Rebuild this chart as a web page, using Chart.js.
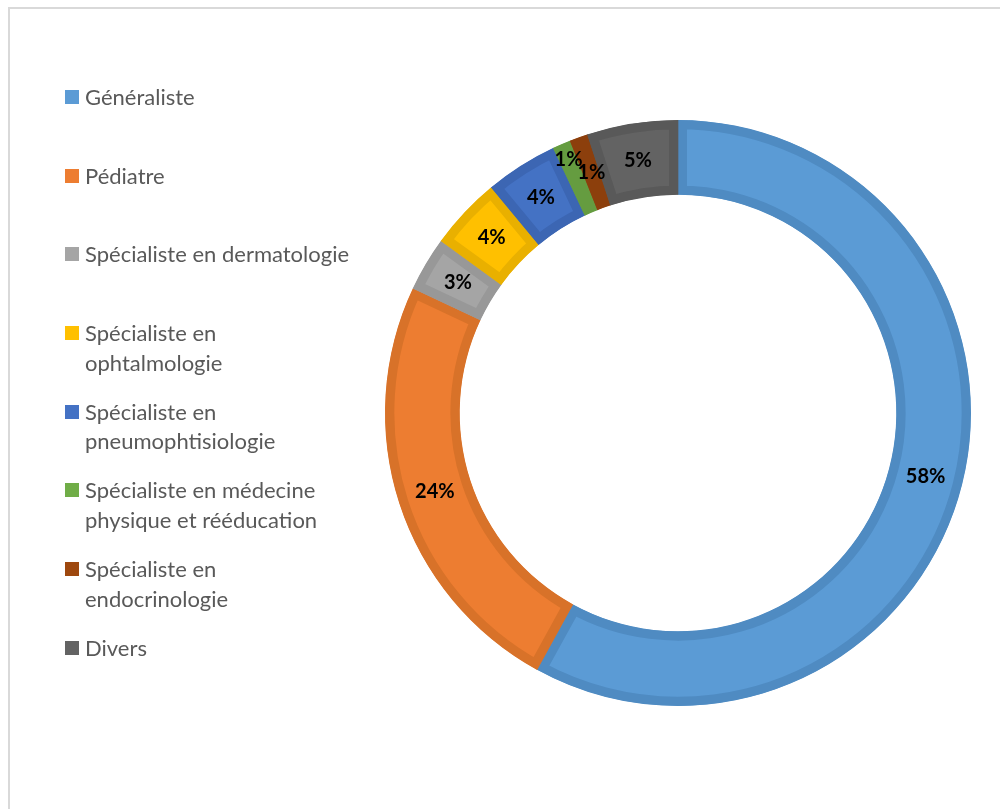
<!DOCTYPE html>
<html lang="fr">
<head>
<meta charset="utf-8">
<title>Répartition des prescripteurs</title>
<script src="https://cdn.jsdelivr.net/npm/chart.js@4.4.1/dist/chart.umd.min.js"></script>
<style>
    html, body {
        margin: 0;
        padding: 0;
        background: #fff;
        overflow: hidden;
    }
    #cadre {
        position: absolute;
        left: 8px;
        top: 7px;
        width: 1010px;
        height: 830px;
        border: 2px solid #d9d9d9;
        box-sizing: border-box;
    }
    #zone {
        position: absolute;
        left: 0;
        top: 0;
        width: 1000px;
        height: 809px;
    }
    #legende {
        position: absolute;
        left: 65px;
        top: 82px;
        margin: 0;
        padding: 0;
        list-style: none;
        font-family: Lato, "Open Sans", sans-serif;
        font-size: 22px;
        line-height: 29.5px;
        color: #595959;
    }
    #legende li {
        position: relative;
        padding-left: 20px;
        height: 78.7px;
    }
    #legende li span.carre {
        position: absolute;
        left: 0;
        top: 8px;
        width: 14px;
        height: 14px;
    }
</style>
</head>
<body>
<div id="cadre"></div>
<div id="zone"><canvas id="graphiqueMedecins" width="1000" height="809"></canvas></div>
<ul id="legende"></ul>
<script>
// Catégories de médecins (les sous-tableaux = retour à la ligne dans la légende)
const categories = [
    'Généraliste',
    'Pédiatre',
    'Spécialiste en dermatologie',
    ['Spécialiste en', 'ophtalmologie'],
    ['Spécialiste en', 'pneumophtisiologie'],
    ['Spécialiste en médecine', 'physique et rééducation'],
    ['Spécialiste en', 'endocrinologie'],
    'Divers'
];

// Pourcentages
const pourcentages = [58, 24, 3, 4, 4, 1, 1, 5];

const couleurs = ['#5b9bd5', '#ed7d31', '#a5a5a5', '#ffc000', '#4472c4', '#70ad47', '#9e480e', '#636363'];
const bordures = ['#4f8bc2', '#d87229', '#989898', '#e9b000', '#3c66b3', '#659c40', '#8c3f0c', '#595959'];

// légende à gauche
const legende = document.getElementById('legende');
categories.forEach((cat, i) => {
    const li = document.createElement('li');
    const carre = document.createElement('span');
    carre.className = 'carre';
    carre.style.background = couleurs[i];
    li.appendChild(carre);
    const lignes = Array.isArray(cat) ? cat : [cat];
    li.appendChild(document.createTextNode(lignes[0]));
    for (let k = 1; k < lignes.length; k++) {
        li.appendChild(document.createElement('br'));
        li.appendChild(document.createTextNode(lignes[k]));
    }
    legende.appendChild(li);
});

// Étiquettes de pourcentage au milieu de chaque part
const etiquettes = {
    id: 'etiquettes',
    afterDatasetsDraw(chart) {
        const ctx = chart.ctx;
        const arcs = chart.getDatasetMeta(0).data;
        const valeurs = chart.data.datasets[0].data;
        ctx.save();
        ctx.font = 'bold 20px Lato, "Open Sans", sans-serif';
        ctx.fillStyle = '#000';
        ctx.textAlign = 'center';
        ctx.textBaseline = 'middle';
        arcs.forEach((arc, i) => {
            const p = arc.getProps(['x', 'y', 'startAngle', 'endAngle', 'innerRadius', 'outerRadius'], true);
            const milieu = (p.startAngle + p.endAngle) / 2;
            let r = (p.innerRadius + p.outerRadius) / 2;
            // deux petites parts côte à côte : on écarte la première vers l'extérieur
            if (valeurs[i] < 2 && valeurs[i + 1] !== undefined && valeurs[i + 1] < 2) {
                r += 20;
            }
            const x = p.x + Math.cos(milieu) * r;
            const y = p.y + Math.sin(milieu) * r;
            ctx.fillText(valeurs[i] + '%', x, y);
        });
        ctx.restore();
    }
};

const ctx = document.getElementById('graphiqueMedecins').getContext('2d');

const graphique = new Chart(ctx, {
    type: 'doughnut',
    data: {
        labels: categories,
        datasets: [{
            data: pourcentages,
            backgroundColor: couleurs,
            borderColor: bordures,
            borderWidth: 9,
            borderAlign: 'inner',
            borderJoinStyle: 'miter'
        }]
    },
    options: {
        responsive: false,
        animation: false,
        cutout: '74.5%',
        radius: 293,
        layout: {
            padding: { left: 385, right: 29, top: 120, bottom: 103 }
        },
        plugins: {
            legend: { display: false },
            tooltip: { enabled: false }
        }
    },
    plugins: [etiquettes]
});
</script>
</body>
</html>
